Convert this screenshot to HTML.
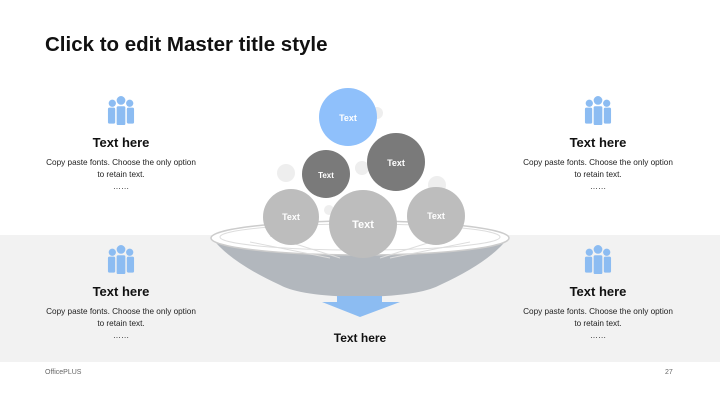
<!DOCTYPE html>
<html><head><meta charset="utf-8"><style>
body{margin:0;width:720px;height:404px;position:relative;background:#fff;font-family:"Liberation Sans",sans-serif;overflow:hidden}
.a{position:absolute}
.h{font-weight:bold;font-size:13px;color:#111;text-align:center;width:200px}
.p{font-size:8.2px;color:#222;text-align:center;width:200px;line-height:12px}
</style></head><body>
<div class="a" style="left:0;top:235px;width:720px;height:127px;background:#f2f2f2"></div>
<div class="a" style="left:45px;top:33px;font-size:20.5px;font-weight:bold;color:#111">Click to edit Master title style</div>
<div class="a" style="left:45px;top:369px;font-size:7px;color:#666">OfficePLUS</div>
<div class="a" style="left:665px;top:369px;font-size:7px;color:#666">27</div>

<svg class="a" style="left:0;top:0" width="720" height="404">
<defs><g id="ppl" fill="#8cbcf2" transform="scale(1.45)">
<circle cx="0" cy="-8" r="3"/><rect x="-3" y="-4" width="6" height="13" rx="1"/>
<circle cx="-6" cy="-6" r="2.5"/><rect x="-9" y="-3" width="5" height="11" rx="1"/>
<circle cx="6" cy="-6" r="2.5"/><rect x="4" y="-3" width="5" height="11" rx="1"/></g></defs>
<use href="#ppl" x="121" y="112"/><use href="#ppl" x="598" y="112"/>
<use href="#ppl" x="121" y="261"/><use href="#ppl" x="598" y="261"/>
<g fill="#eeeeee"><circle cx="377" cy="113" r="6"/><circle cx="286" cy="173" r="9"/><circle cx="362" cy="168" r="7"/><circle cx="437" cy="185" r="9"/><circle cx="329" cy="210" r="5"/></g>
<path d="M212 238 Q230 262 280 285 Q300 296 360 297 Q420 296 440 285 Q490 262 508 238 Z" fill="#b2b7bd"/>
<ellipse cx="360" cy="238" rx="149" ry="17" fill="#fff" stroke="#ccc" stroke-width="1.5"/>
<ellipse cx="360" cy="237" rx="140" ry="13" fill="none" stroke="#ddd"/>
<g stroke="#ddd" stroke-width="1"><line x1="250" y1="242" x2="330" y2="258"/><line x1="270" y1="236" x2="340" y2="258"/><line x1="450" y1="236" x2="380" y2="258"/><line x1="470" y1="242" x2="390" y2="258"/></g>
<path d="M337 296 H382 V302 H400 L360 317 L322 302 H337 Z" fill="#8cbcf2"/>
<circle cx="348" cy="117" r="29" fill="#8fc0fb"/>
<circle cx="326" cy="174" r="24" fill="#7a7a7a"/>
<circle cx="396" cy="162" r="29" fill="#7a7a7a"/>
<circle cx="291" cy="217" r="28" fill="#bdbdbd"/>
<circle cx="436" cy="216" r="29" fill="#bdbdbd"/>
<circle cx="363" cy="224" r="34" fill="#bdbdbd"/>
<g fill="#fff" font-family="Liberation Sans" font-weight="bold" text-anchor="middle">
<text x="348" y="121" font-size="9">Text</text><text x="326" y="178" font-size="8">Text</text>
<text x="396" y="166" font-size="9">Text</text><text x="291" y="220" font-size="9">Text</text>
<text x="436" y="219" font-size="9">Text</text><text x="363" y="228" font-size="11">Text</text></g>
</svg>

<div class="a h" style="left:21px;top:135px">Text here</div>
<div class="a p" style="left:21px;top:157px">Copy paste fonts. Choose the only option<br>to retain text.<br>……</div>
<div class="a h" style="left:498px;top:135px">Text here</div>
<div class="a p" style="left:498px;top:157px">Copy paste fonts. Choose the only option<br>to retain text.<br>……</div>
<div class="a h" style="left:21px;top:284px">Text here</div>
<div class="a p" style="left:21px;top:306px">Copy paste fonts. Choose the only option<br>to retain text.<br>……</div>
<div class="a h" style="left:498px;top:284px">Text here</div>
<div class="a p" style="left:498px;top:306px">Copy paste fonts. Choose the only option<br>to retain text.<br>……</div>
<div class="a h" style="left:260px;top:331px;font-size:12px">Text here</div>
</body></html>
